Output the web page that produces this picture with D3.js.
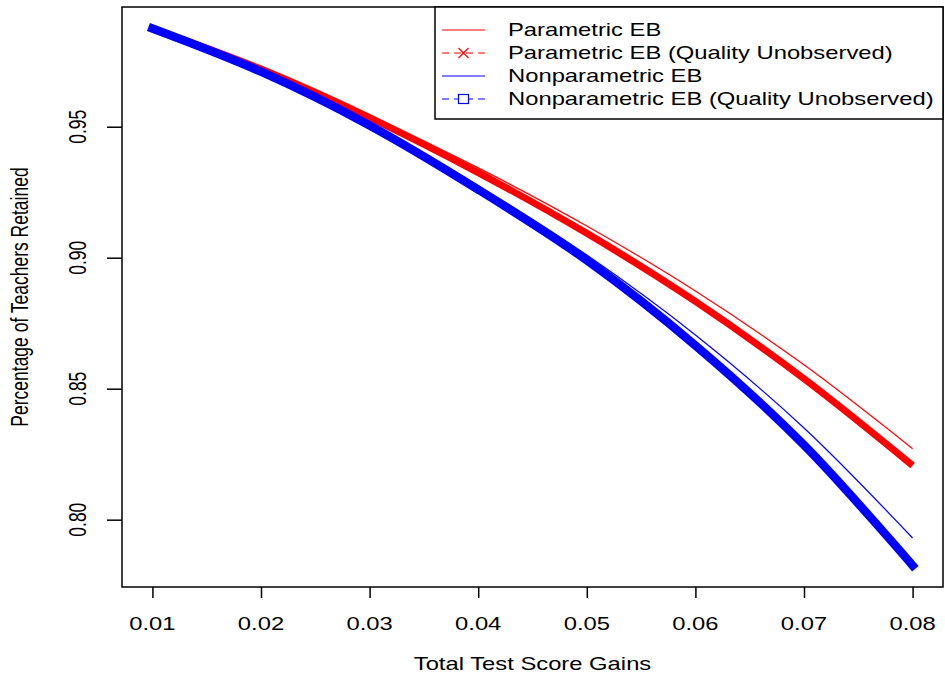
<!DOCTYPE html>
<html>
<head>
<meta charset="utf-8">
<script src="https://cdn.jsdelivr.net/npm/d3@7"></script>
<style>
  html, body { margin: 0; padding: 0; background: #fff; }
  svg { display: block; font-family: "Liberation Sans", Arial, sans-serif; }
</style>
</head>
<body>
<div id="chart"></div>
<script>
// Test score gain thresholds (x values)
const gains = [0.01, 0.02, 0.03, 0.04, 0.05, 0.06, 0.07, 0.08];

// Share of teachers retained
const parametric = [0.9875, 0.9723, 0.9543, 0.9343, 0.9121, 0.8873, 0.8591, 0.8271];
const parametricUnobs = [0.9875, 0.9720, 0.9535, 0.9325, 0.9093, 0.8833, 0.8538, 0.8207];
const nonparametric = [0.9875, 0.9715, 0.9515, 0.9275, 0.9010, 0.8705, 0.8350, 0.7930];
const nonparametricUnobs = [0.9875, 0.9710, 0.9505, 0.9260, 0.8990, 0.8665, 0.8285, 0.7825];

const xTicks = [0.01, 0.02, 0.03, 0.04, 0.05, 0.06, 0.07, 0.08];
const yTicks = [0.80, 0.85, 0.90, 0.95];

const legendLabels = [
    'Parametric EB',
    'Parametric EB (Quality Unobserved)',
    'Nonparametric EB',
    'Nonparametric EB (Quality Unobserved)'
];

// Page / plot geometry (the original was stretched sideways)
const W = 945, H = 676;
const margin = { top: 7, right: 2, bottom: 89, left: 122 };
const FONT = 17.5;   // base font size
const SX = 1.36;     // horizontal text stretch

const series = [
    { name: legendLabels[0], values: parametric, color: '#ff0000', width: 1.2, dashed: false, marker: null },
    { name: legendLabels[1], values: parametricUnobs, color: '#ff0000', width: 7, dashed: true, marker: 'cross' },
    { name: legendLabels[2], values: nonparametric, color: '#0000ff', width: 1.2, dashed: false, marker: null },
    { name: legendLabels[3], values: nonparametricUnobs, color: '#0000ff', width: 8.5, dashed: true, marker: 'square' }
];

const svg = d3.select('#chart')
    .append('svg')
    .attr('width', W)
    .attr('height', H);

// Scales with R-style 4% padding
const allY = series.flatMap(s => s.values);
const xPad = (d3.max(gains) - d3.min(gains)) * 0.04;
const yPad = (d3.max(allY) - d3.min(allY)) * 0.04;

const x = d3.scaleLinear()
    .domain([d3.min(gains) - xPad, d3.max(gains) + xPad])
    .range([margin.left, W - margin.right]);

const y = d3.scaleLinear()
    .domain([d3.min(allY) - yPad, d3.max(allY) + yPad])
    .range([H - margin.bottom, margin.top]);

// stretched text helper
function addText(parent, px, py, str, opts = {}) {
    const rot = opts.rotate ? ` rotate(${opts.rotate})` : '';
    return parent.append('text')
        .attr('transform', `translate(${px},${py}) scale(${SX},1)${rot}`)
        .attr('text-anchor', opts.anchor || 'middle')
        .attr('font-size', opts.size || FONT)
        .attr('fill', '#000')
        .text(str);
}

// Bottom axis
const xAxis = svg.append('g')
    .attr('transform', `translate(0,${H - margin.bottom})`)
    .call(d3.axisBottom(x).tickValues(xTicks).tickSize(11).tickFormat(() => ''));
xAxis.select('.domain').remove();
xAxis.selectAll('line').attr('stroke', '#000').attr('stroke-width', 1.5);
xTicks.forEach(t => addText(svg, x(t), 630, d3.format('.2f')(t)));

// Left axis
const yAxis = svg.append('g')
    .attr('transform', `translate(${margin.left},0)`)
    .call(d3.axisLeft(y).tickValues(yTicks).tickSize(15).tickFormat(() => ''));
yAxis.select('.domain').remove();
yAxis.selectAll('line').attr('stroke', '#000').attr('stroke-width', 1.5);
yTicks.forEach(t => addText(svg, 86, y(t), d3.format('.2f')(t), { rotate: -90 }));

// Axis titles
addText(svg, (x.range()[0] + x.range()[1]) / 2, 670, 'Total Test Score Gains');
addText(svg, 28, (y.range()[0] + y.range()[1]) / 2, 'Percentage of Teachers Retained', { rotate: -90 });

// Curves
const line = d3.line()
    .x((d, i) => x(gains[i]))
    .y(d => y(d))
    .curve(d3.curveCatmullRom.alpha(0.5));

const plot = svg.append('g');
series.forEach(s => {
    plot.append('path')
        .datum(s.values)
        .attr('fill', 'none')
        .attr('stroke', s.color)
        .attr('stroke-width', s.width)
        .attr('stroke-linejoin', 'round')
        .attr('stroke-linecap', s.marker === 'square' ? 'square' : 'butt')
        .attr('d', line);
});

// Plot box
svg.append('rect')
    .attr('x', margin.left)
    .attr('y', margin.top)
    .attr('width', W - margin.left - margin.right)
    .attr('height', H - margin.top - margin.bottom)
    .attr('fill', 'none')
    .attr('stroke', '#000')
    .attr('stroke-width', 1.5);

// Legend
const legX = 435, legW = W - margin.right - 435, rowH = 23;
const legend = svg.append('g');
legend.append('rect')
    .attr('x', legX)
    .attr('y', margin.top)
    .attr('width', legW)
    .attr('height', 112)
    .attr('fill', '#fff')
    .attr('stroke', '#000')
    .attr('stroke-width', 1.5);

series.forEach((s, i) => {
    const cy = 30 + i * rowH;
    const g = legend.append('g');
    g.append('line')
        .attr('x1', 442).attr('x2', 485)
        .attr('y1', cy).attr('y2', cy)
        .attr('stroke', s.color)
        .attr('stroke-width', 1.2)
        .attr('stroke-dasharray', s.dashed ? '7,5' : null);
    if (s.marker === 'cross') {
        const r = 5;
        g.append('path')
            .attr('d', `M${463.5 - r},${cy - r}L${463.5 + r},${cy + r}M${463.5 - r},${cy + r}L${463.5 + r},${cy - r}`)
            .attr('stroke', s.color)
            .attr('stroke-width', 1.2);
    } else if (s.marker === 'square') {
        g.append('rect')
            .attr('x', 463.5 - 5).attr('y', cy - 4.5)
            .attr('width', 10).attr('height', 9)
            .attr('fill', '#fff')
            .attr('stroke', s.color)
            .attr('stroke-width', 1.2);
    }
    addText(g, 508, cy + 6, s.name, { anchor: 'start' });
});
</script>
</body>
</html>
